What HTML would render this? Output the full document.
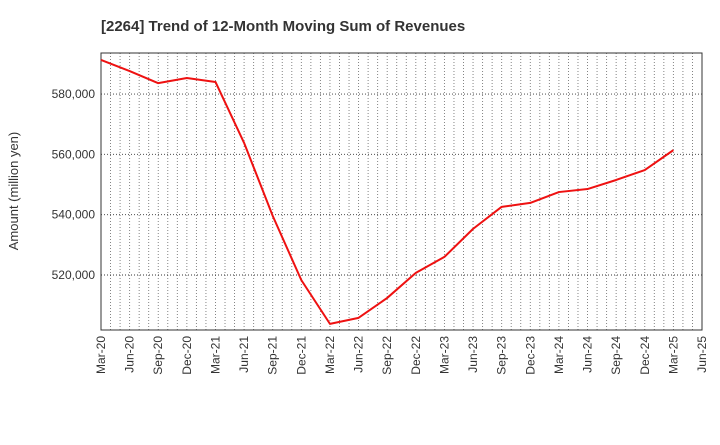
<!DOCTYPE html>
<html><head><meta charset="utf-8"><style>
body{margin:0;background:#fff;font-family:"Liberation Sans",sans-serif}
</style></head><body>
<svg id="chart" width="720" height="440" xmlns="http://www.w3.org/2000/svg">
<text x="101" y="31" text-anchor="start" font-size="15" font-weight="bold" fill="#333">[2264]  Trend of 12-Month Moving Sum of Revenues</text>
<text transform="translate(18,191) rotate(-90)" text-anchor="middle" font-size="13" fill="#333">Amount (million yen)</text>
<g id="grid"></g><g id="axes"></g><g id="series"></g>
</svg>
<script>
const xLabels=["Mar-20","Jun-20","Sep-20","Dec-20","Mar-21","Jun-21","Sep-21","Dec-21","Mar-22","Jun-22","Sep-22","Dec-22","Mar-23","Jun-23","Sep-23","Dec-23","Mar-24","Jun-24","Sep-24","Dec-24","Mar-25","Jun-25"];
const revenues=[591300,587600,583600,585300,584000,563800,539600,518300,503800,505800,512400,520700,526000,535300,542600,543900,547500,548500,551500,554800,561400];
const yTicks=[520000,540000,560000,580000];
const yTickLabels=["520,000","540,000","560,000","580,000"];
const L=101,R=702,T=53,B=330,yMin=501770,yMax=593600;
const NS="http://www.w3.org/2000/svg";
const xs=i=>L+i*(R-L)/(xLabels.length-1);
const ys=v=>B-(v-yMin)/(yMax-yMin)*(B-T);
function mk(tag,attrs,parent){const e=document.createElementNS(NS,tag);for(const k in attrs)e.setAttribute(k,attrs[k]);document.getElementById(parent).appendChild(e);return e;}
const months=(xLabels.length-1)*3;
for(let m=1;m<months;m++){const x=L+m*(R-L)/months;
const g=mk('line',{x1:x,x2:x,y1:T,y2:B,stroke:'#777','stroke-width':0.9,'stroke-dasharray':'1,2'},'grid');

}
yTicks.forEach((v,i)=>{const y=ys(v);
const g=mk('line',{x1:L,x2:R,y1:y,y2:y,stroke:'#333','stroke-width':0.9,'stroke-dasharray':'1,2'},'grid');


const t=mk('text',{x:L-6,y:y+4,'text-anchor':'end','font-size':12,fill:'#333'},'axes');t.textContent=yTickLabels[i];

});
const fr=mk('rect',{x:L,y:T,width:R-L,height:B-T,fill:'none',stroke:'#333','stroke-width':1},'axes');


xLabels.forEach((s,i)=>{const x=xs(i);
const t=mk('text',{transform:`translate(${x+4},${B+6}) rotate(-90)`,'text-anchor':'end','font-size':12,fill:'#333'},'axes');t.textContent=s;

});
const p=mk('polyline',{points:revenues.map((v,i)=>xs(i)+','+ys(v)).join(' '),fill:'none',stroke:'#ee1111','stroke-width':2,'stroke-linejoin':'round'},'series');


</script>
</body></html>
